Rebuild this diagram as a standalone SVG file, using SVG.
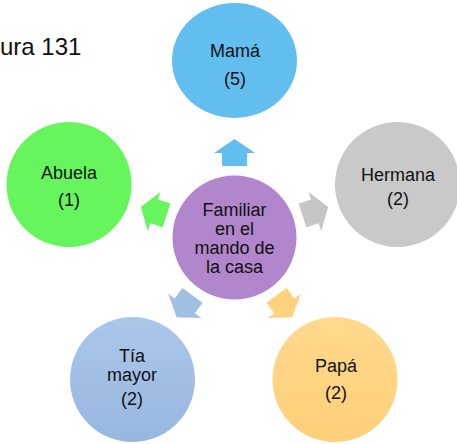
<svg xmlns="http://www.w3.org/2000/svg" width="457" height="444" viewBox="0 0 457 444">
<style>
.t{font-family:"Liberation Sans",Arial,sans-serif;font-size:18px;fill:#111;text-anchor:middle}
.cap{font-family:"Liberation Sans",Arial,sans-serif;font-size:24px;fill:#111}
</style>
<defs>
<path id="arr" d="M0,-98.5 L20.5,-84.5 L12.5,-84.5 L12.5,-71.5 L-12.5,-71.5 L-12.5,-84.5 L-20.5,-84.5 Z"/>
<linearGradient id="gTia" x1="0" y1="0" x2="0" y2="1"><stop offset="0" stop-color="#AAC7EA"/><stop offset="1" stop-color="#98B7DF"/></linearGradient>
<linearGradient id="gPapa" x1="0" y1="0" x2="0" y2="1"><stop offset="0" stop-color="#FFD98E"/><stop offset="1" stop-color="#FFCF78"/></linearGradient>
</defs>
<rect width="457" height="444" fill="#fff"/>
<text class="cap" x="0" y="55">ura 131</text>
<g id="connectors" transform="translate(234.5,237.5)">
<use href="#arr" fill="#62BEEF"/>
<use href="#arr" fill="#66F55C" transform="rotate(-72)"/>
<use href="#arr" fill="#C6C6C6" transform="rotate(72)"/>
<use href="#arr" fill="#A0BFE5" transform="rotate(-144)"/>
<use href="#arr" fill="#FFD27E" transform="rotate(144)"/>
</g>
<g id="mama">
<ellipse cx="234.5" cy="60.5" rx="62.5" ry="57.5" fill="#62BEEF"/>
<text class="t" x="235" y="57">Mamá</text>
<text class="t" x="235" y="85">(5)</text>
</g>
<g id="abuela">
<circle cx="69" cy="184.5" r="62.5" fill="#66F55C"/>
<text class="t" x="69" y="178.5">Abuela</text>
<text class="t" x="69" y="206">(1)</text>
</g>
<g id="hermana">
<circle cx="397.5" cy="184.5" r="62.5" fill="#C9C9C9"/>
<text class="t" x="398" y="181">Hermana</text>
<text class="t" x="398" y="205">(2)</text>
</g>
<g id="tia">
<circle cx="132.5" cy="379.5" r="62.5" fill="url(#gTia)"/>
<text class="t" x="132" y="362">Tía</text>
<text class="t" x="132" y="381">mayor</text>
<text class="t" x="132" y="405">(2)</text>
</g>
<g id="papa">
<circle cx="335" cy="379.5" r="62.5" fill="url(#gPapa)"/>
<text class="t" x="336" y="372">Papá</text>
<text class="t" x="336" y="399">(2)</text>
</g>
<g id="familiar">
<circle cx="234.5" cy="237.5" r="62" fill="#B286CC"/>
<text class="t" x="234.5" y="216">Familiar</text>
<text class="t" x="234.5" y="235">en el</text>
<text class="t" x="234.5" y="254">mando de</text>
<text class="t" x="234.5" y="273">la casa</text>
</g>
</svg>
